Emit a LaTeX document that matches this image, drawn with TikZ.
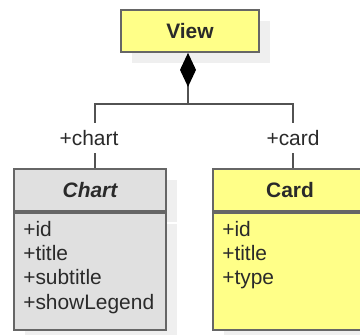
\documentclass[tikz,border=0pt]{standalone}
\usepackage{fontspec}
\setmainfont{Liberation Sans}
\usetikzlibrary{arrows.meta,shadows}

\definecolor{classyellow}{HTML}{FFFF88}
\definecolor{classgray}{HTML}{E0E0E0}
\definecolor{edgegray}{HTML}{666666}
\definecolor{shadowgray}{HTML}{EFEFEF}
\definecolor{inkgray}{HTML}{2A2A2A}

\tikzset{
  boxbase/.style={draw=edgegray, line width=1.8bp, text=inkgray, inner sep=0pt,
    general shadow={fill=shadowgray, shadow xshift=11bp, shadow yshift=-11bp}},
  headbox/.style={boxbase, minimum height=42bp, font=\fontsize{21}{25}\selectfont\bfseries},
  bodybox/.style={boxbase, minimum height=117bp, anchor=north},
  attrs/.style={anchor=north west, inner sep=0pt, align=left, text=inkgray,
    font=\fontsize{21}{24.4}\selectfont},
  link/.style={draw=edgegray!80!black, line width=1.8bp},
  rolelabel/.style={fill=white, text=inkgray, inner xsep=1bp, inner ysep=7bp,
    font=\fontsize{21}{25}\selectfont},
}

\begin{document}
\begin{tikzpicture}[x=1bp, y=-1bp]
\useasboundingbox (0,0) rectangle (360,335);
% everything past the page edge is cut away
\clip (0,0) rectangle (360,335);

% the owning class
\node[headbox, fill=classyellow, minimum width=138bp] (view) at (190,31) {View};

% Chart class: name compartment and attribute compartment
\node[headbox, fill=classgray, minimum width=152bp] (charthead) at (90,190)
  {\itshape Chart};
\node[bodybox, fill=classgray, minimum width=152bp] (chartbody) at (charthead.south) {};
\node[attrs] (chartattrs) at ([shift={(10bp,-9bp)}]chartbody.north west)
  {+id\\+title\\+subtitle\\+showLegend};

% Card class (runs past the right edge of the page)
\node[headbox, fill=classyellow, minimum width=164bp] (cardhead) at (295,190) {\hspace*{-10bp}Card};
\node[bodybox, fill=classyellow, minimum width=164bp] (cardbody) at (cardhead.south) {};
\node[attrs] (cardattrs) at ([shift={(10bp,-9bp)}]cardbody.north west)
  {+id\\+title\\+type};

% composition: filled diamond at the owner, branching to both parts
\coordinate (dtop) at ([xshift=-2bp]view.south);
\coordinate (fork) at ([yshift=-51bp]dtop);
\draw[link, {Diamond[length=34bp, width=16bp, color=black, fill=black]}-] (dtop) -- (fork);
\draw[link] (fork) -| node[rolelabel, pos=0.75, xshift=-6bp, yshift=-2bp] (chartrole) {+chart}
  ([xshift=5bp]charthead.north);
\draw[link] (fork) -| node[rolelabel, pos=0.75, yshift=-2bp] (cardrole) {+card}
  ([xshift=-2bp]cardhead.north);
\end{tikzpicture}
\end{document}
